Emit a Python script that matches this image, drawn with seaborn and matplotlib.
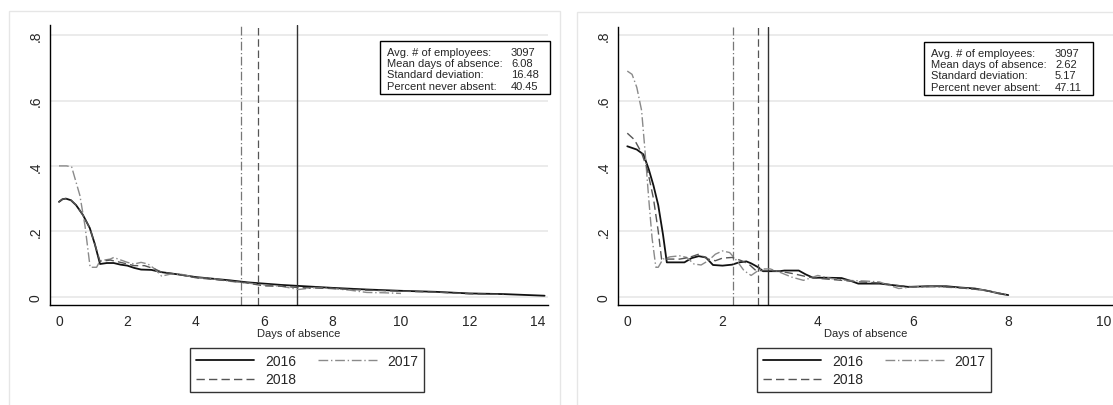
import numpy as np
import pandas as pd
import seaborn as sns
import matplotlib as mpl
import matplotlib.pyplot as plt
from matplotlib.lines import Line2D
from matplotlib.patches import Rectangle

# ---- data ----
years = ["2016", "2017", "2018"]

# left panel
left_2016_x = [0, 0.1, 0.2, 0.35, 0.5, 0.7, 0.9, 1.05, 1.2, 1.4, 1.6, 1.8, 2.0, 2.2, 2.4, 2.7, 3.0,
               3.5, 4.0, 4.5, 5.0, 5.5, 6.0, 6.5, 7.0, 7.5, 8.0, 9.0, 10.0, 11.0, 12.0, 13.0, 14.2]
left_2016_y = [0.29, 0.298, 0.30, 0.295, 0.28, 0.25, 0.21, 0.16, 0.10, 0.103, 0.103, 0.098, 0.095,
               0.088, 0.083, 0.082, 0.075, 0.068, 0.06, 0.055, 0.05, 0.044, 0.04, 0.036, 0.033,
               0.03, 0.027, 0.022, 0.018, 0.015, 0.010, 0.008, 0.003]
left_2017_x = [0, 0.22, 0.37, 0.61, 0.76, 0.91, 1.1, 1.2, 1.5, 1.6, 2.0, 2.2, 2.4, 2.6, 2.8, 3.0,
               3.3, 3.6, 4.0, 4.5, 5.0, 5.5, 6.0, 6.5, 7.0, 7.5, 8.0, 8.5, 9.0, 9.5, 10.0]
left_2017_y = [0.40, 0.40, 0.397, 0.31, 0.217, 0.09, 0.09, 0.11, 0.115, 0.12, 0.105, 0.10, 0.105,
               0.10, 0.085, 0.063, 0.07, 0.068, 0.058, 0.055, 0.047, 0.042, 0.036, 0.032, 0.022,
               0.028, 0.025, 0.02, 0.013, 0.012, 0.01]
left_2018_x = [0, 0.1, 0.2, 0.35, 0.5, 0.7, 0.9, 1.05, 1.2, 1.5, 1.8, 2.0, 2.2, 2.5, 2.8, 3.0, 3.5,
               4.0, 5.0, 5.5, 6.0, 6.5, 7.0, 8.0, 9.0, 10.0, 11.0, 12.0, 13.0]
left_2018_y = [0.29, 0.298, 0.30, 0.295, 0.28, 0.25, 0.21, 0.16, 0.108, 0.112, 0.105, 0.10, 0.095,
               0.095, 0.085, 0.075, 0.068, 0.058, 0.048, 0.042, 0.033, 0.032, 0.028, 0.025, 0.02,
               0.017, 0.014, 0.009, 0.007]
left_means = {"2016": 6.95, "2017": 5.32, "2018": 5.81}
left_stats = ["3097", "6.08", "16.48", "40.45"]

# right panel
right_2016_x = [0, 0.2, 0.34, 0.45, 0.55, 0.65, 0.75, 0.83, 1.0, 1.2, 1.35, 1.5, 1.65, 1.8, 2.0, 2.2,
                2.35, 2.5, 2.6, 2.75, 2.85, 3.2, 3.3, 3.6, 3.75, 3.9, 4.2, 4.5, 4.7, 4.85, 5.3, 5.6,
                5.9, 6.3, 6.7, 7.0, 7.3, 7.6, 7.8, 8.0]
right_2016_y = [0.46, 0.45, 0.435, 0.39, 0.34, 0.28, 0.19, 0.105, 0.105, 0.105, 0.118, 0.124, 0.12,
                0.097, 0.095, 0.098, 0.105, 0.108, 0.102, 0.09, 0.078, 0.078, 0.08, 0.08, 0.068,
                0.058, 0.058, 0.057, 0.048, 0.04, 0.04, 0.035, 0.03, 0.032, 0.032, 0.028, 0.025,
                0.017, 0.01, 0.005]
right_2017_x = [0, 0.1, 0.2, 0.3, 0.37, 0.45, 0.52, 0.6, 0.65, 0.75, 0.9, 1.1, 1.25, 1.4, 1.55, 1.7,
                1.85, 2.0, 2.15, 2.3, 2.45, 2.6, 2.8, 3.0, 3.2, 3.45, 3.7, 4.0, 4.3, 4.6, 5.0, 5.3,
                5.7, 6.0, 6.5, 7.0, 7.5, 8.0]
right_2017_y = [0.69, 0.68, 0.64, 0.57, 0.45, 0.30, 0.18, 0.09, 0.09, 0.115, 0.122, 0.125, 0.12,
                0.10, 0.097, 0.11, 0.13, 0.14, 0.135, 0.11, 0.08, 0.065, 0.085, 0.085, 0.075, 0.06,
                0.05, 0.065, 0.055, 0.05, 0.048, 0.045, 0.025, 0.03, 0.03, 0.027, 0.02, 0.005]
right_2018_x = [0, 0.15, 0.3, 0.42, 0.55, 0.65, 0.72, 0.9, 1.1, 1.3, 1.5, 1.7, 1.85, 2.0, 2.2, 2.4,
                2.55, 2.7, 2.9, 3.2, 3.5, 3.8, 4.1, 4.5, 4.9, 5.3, 5.6, 6.0, 6.5, 7.0, 7.5, 8.0]
right_2018_y = [0.50, 0.48, 0.44, 0.39, 0.30, 0.20, 0.115, 0.115, 0.115, 0.12, 0.13, 0.115, 0.11,
                0.118, 0.12, 0.11, 0.10, 0.08, 0.08, 0.078, 0.07, 0.06, 0.055, 0.05, 0.045, 0.042,
                0.035, 0.03, 0.032, 0.027, 0.02, 0.005]
right_means = {"2016": 2.95, "2017": 2.21, "2018": 2.74}
right_stats = ["3097", "2.62", "5.17", "47.11"]

stat_labels = ["Avg. # of employees:", "Mean days of absence:",
               "Standard deviation:", "Percent never absent:"]
y_ticks = [0, 0.2, 0.4, 0.6, 0.8]
y_ticklabels = ["0", ".2", ".4", ".6", ".8"]

# ---- styling ----
sns.set_style("white")
plt.rcParams["font.family"] = ["Liberation Sans Narrow", "Liberation Sans", "DejaVu Sans"]

styles = {
    "2016": dict(color="#111111", linestyle="-", lw=1.3),
    "2017": dict(color="#8a8a8a", linestyle=(0, (7, 2, 1, 2)), lw=1.0),
    "2018": dict(color="#555555", linestyle=(0, (6, 3)), lw=1.0),
}
vstyles = {
    "2016": dict(color="#333333", linestyle="-", lw=1.0),
    "2017": dict(color="#777777", linestyle=(0, (7, 2, 1, 2)), lw=0.9),
    "2018": dict(color="#555555", linestyle=(0, (6, 3)), lw=0.9),
}

W, H = 1113, 406
fig = plt.figure(figsize=(W / 100, H / 100), dpi=100)


def px(x0, y0, x1, y1):
    # pixel box -> figure fraction [left, bottom, width, height]
    return [x0 / W, 1 - y1 / H, (x1 - x0) / W, (y1 - y0) / H]


# light grey graph-region frames
for (x0, y0, x1, y1) in [(9, 12, 560, 420), (577, 13, 1130, 420)]:
    fig.add_artist(Rectangle((x0 / W, 1 - y1 / H), (x1 - x0) / W, (y1 - y0) / H,
                             transform=fig.transFigure, fill=False,
                             edgecolor="#e6e6e6", lw=1.0))

panels = [
    dict(box=(50, 26, 548, 306), xlim=(-0.263, 14.3), xticks=range(0, 15, 2),
         data={"2016": (left_2016_x, left_2016_y), "2017": (left_2017_x, left_2017_y),
               "2018": (left_2018_x, left_2018_y)},
         means=left_means, stats=left_stats, sbox=(380, 42, 550, 95), lbox=(190, 349, 406, 394)),
    dict(box=(618, 28, 1113, 306), xlim=(-0.195, 10.2), xticks=range(0, 11, 2),
         data={"2016": (right_2016_x, right_2016_y), "2017": (right_2017_x, right_2017_y),
               "2018": (right_2018_x, right_2018_y)},
         means=right_means, stats=right_stats, sbox=(924, 43, 1093, 96), lbox=(757, 349, 973, 393)),
]

for p in panels:
    ax = fig.add_axes(px(*p["box"]))
    ylo = -(306 - 297.7) / 327.0
    yhi = (297.7 - p["box"][1]) / 327.0
    ax.set_xlim(*p["xlim"])
    ax.set_ylim(ylo, yhi)

    for yv in y_ticks:
        ax.axhline(yv, color="#e9e9e9", lw=1.3, zorder=0)

    for yr in years:
        xs, ys = p["data"][yr]
        df = pd.DataFrame({"days": xs, "share": ys})
        sns.lineplot(data=df, x="days", y="share", ax=ax, **styles[yr])
        ax.axvline(p["means"][yr], ymin=0, ymax=1, **vstyles[yr])

    ax.set_xticks(list(p["xticks"]))
    ax.set_yticks(y_ticks)
    ax.set_yticklabels(y_ticklabels, rotation=90, va="center")
    ax.tick_params(axis="both", direction="out", length=4.5, width=0.8, color="black",
                   labelsize=10, pad=2)
    ax.tick_params(axis="y", pad=1)
    ax.set_xlabel("Days of absence", fontsize=8, labelpad=0)
    ax.set_ylabel("")
    for s in ["top", "right"]:
        ax.spines[s].set_visible(False)
    for s in ["left", "bottom"]:
        ax.spines[s].set_color("black")
        ax.spines[s].set_linewidth(1.0)

    # statistics box
    x0, y0, x1, y1 = p["sbox"]
    fig.add_artist(Rectangle((x0 / W, 1 - y1 / H), (x1 - x0) / W, (y1 - y0) / H,
                             transform=fig.transFigure, facecolor="white",
                             edgecolor="black", lw=1.0, zorder=5))
    for i, (lab, val) in enumerate(zip(stat_labels, p["stats"])):
        ty = 1 - (y0 + 11 + i * 11.2) / H
        fig.text((x0 + 7) / W, ty, lab, fontsize=8, va="center", ha="left", zorder=6)
        fig.text((x0 + 131) / W, ty, val, fontsize=8, va="center", ha="left", zorder=6)

    # legend below the plot
    handles = {yr: Line2D([], [], **styles[yr]) for yr in years}
    lx0, ly0, lx1, ly1 = p["lbox"]
    order = ["2016", "2018", "2017"]
    leg = ax.legend([handles[k] for k in order], order, ncol=2,
                    loc="upper left", bbox_to_anchor=(lx0 / W, 1 - ly0 / H),
                    bbox_transform=fig.transFigure, frameon=True, fancybox=False,
                    edgecolor="black", fontsize=10, handlelength=4.2, handletextpad=0.8,
                    columnspacing=1.6, labelspacing=0.35, borderpad=0.4, borderaxespad=0)
    leg.get_frame().set_linewidth(1.0)

fig.savefig("out.png", dpi=100)
